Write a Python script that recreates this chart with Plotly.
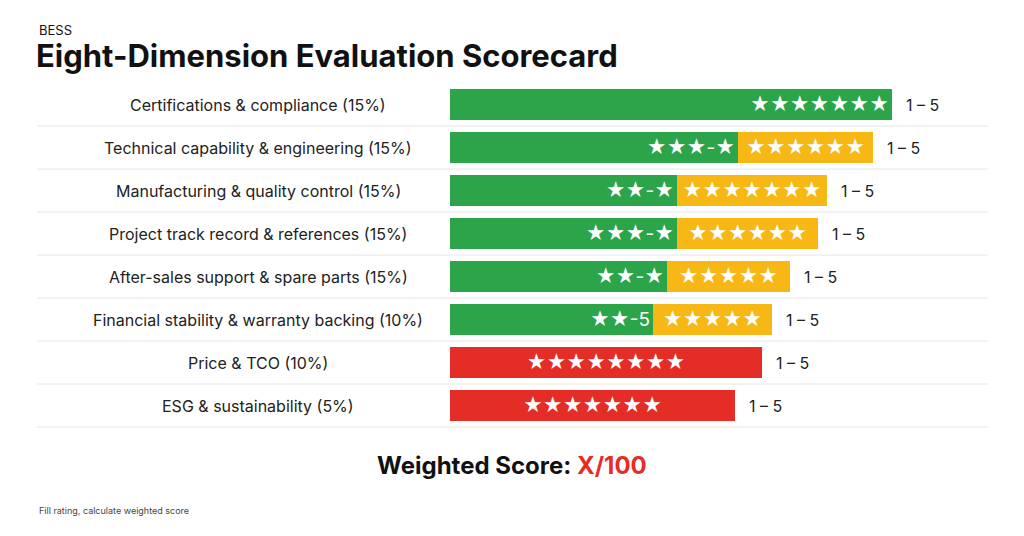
import plotly.graph_objects as go

categories = ["Certifications & compliance (15%)", "Technical capability & engineering (15%)",
              "Manufacturing & quality control (15%)", "Project track record & references (15%)",
              "After-sales support & spare parts (15%)", "Financial stability & warranty backing (10%)",
              "Price & TCO (10%)", "ESG & sustainability (5%)"]
green = [442, 288, 227, 227, 217, 203, 0, 0]
yellow = [0, 135, 150, 141, 123, 119, 0, 0]
red = [0, 0, 0, 0, 0, 0, 312, 285]
green_text = ["★★★★★★★", "★★★-★", "★★-★", "★★★-★", "★★-★", "★★-5", "", ""]
yellow_text = ["", "★★★★★★", "★★★★★★★", "★★★★★★", "★★★★★", "★★★★★", "", ""]
red_text = ["", "", "", "", "", "", "★★★★★★★★", "★★★★★★★"]
range_label = "1 – 5"

W, H = 1024, 536
OFF = 8  # page body margin in the browser


def px(x):
    return (x - OFF) / W


def py(y):
    return 1 - (y - OFF) / H


fig = go.Figure()
for vals, txt, col, anchor in [(green, green_text, "#2ba44a", "end"),
                               (yellow, yellow_text, "#f7b816", "middle"),
                               (red, red_text, "#e42d26", "middle")]:
    fig.add_bar(y=categories, x=vals, orientation="h", marker_color=col, marker_line_width=0,
                text=txt, textposition="inside", insidetextanchor=anchor,
                textfont=dict(color="white", size=19), width=0.7, cliponaxis=False)

ydom = [py(427), py(83)]
row_h = (ydom[1] - ydom[0]) / len(categories)
for i, c in enumerate(categories):
    yc = ydom[1] - (i + 0.5) * row_h
    total = green[i] + yellow[i] + red[i]
    fig.add_annotation(x=px(258), y=yc, xref="paper", yref="paper", text=c, showarrow=False,
                       xanchor="center", yanchor="middle", font=dict(size=16, color="#222"))
    fig.add_annotation(x=total + 12, y=c, xref="x", yref="y", text=range_label, showarrow=False,
                       xanchor="left", yanchor="middle", font=dict(size=16, color="#222"))
    if i > 0:
        yl = ydom[1] - i * row_h
        fig.add_shape(type="line", xref="paper", yref="paper", x0=px(37), x1=px(988), y0=yl, y1=yl,
                      line=dict(color="#e6e6e6", width=1), layer="below")
fig.add_shape(type="line", xref="paper", yref="paper", x0=px(37), x1=px(988), y0=ydom[0], y1=ydom[0],
              line=dict(color="#e6e6e6", width=1), layer="below")

fig.add_annotation(x=px(37), y=py(30), xref="paper", yref="paper", text="BESS", showarrow=False,
                   xanchor="left", yanchor="middle", font=dict(size=13, color="#111"))
fig.add_annotation(x=px(34), y=py(55), xref="paper", yref="paper",
                   text="<b>Eight-Dimension Evaluation Scorecard</b>", showarrow=False,
                   xanchor="left", yanchor="middle", font=dict(size=31, color="#111"))
fig.add_annotation(x=px(512), y=py(465), xref="paper", yref="paper",
                   text="<b>Weighted Score: <span style='color:#e42d26'>X/100</span></b>",
                   showarrow=False, xanchor="center", yanchor="middle", font=dict(size=24, color="#111"))
fig.add_annotation(x=px(37), y=py(510), xref="paper", yref="paper",
                   text="Fill rating, calculate weighted score", showarrow=False,
                   xanchor="left", yanchor="middle", font=dict(size=9, color="#444"))

fig.update_layout(width=W, height=H, barmode="stack", showlegend=False,
                  margin=dict(l=0, r=0, t=0, b=0), plot_bgcolor="white", paper_bgcolor="white",
                  font=dict(family="Inter, Roboto, sans-serif"), bargap=0.3,
                  uniformtext=dict(mode="show", minsize=10))
fig.update_xaxes(domain=[px(450), 1], range=[0, W - 450 + OFF], visible=False)
fig.update_yaxes(domain=ydom, autorange="reversed", visible=False)
fig.write_html("out.html")
